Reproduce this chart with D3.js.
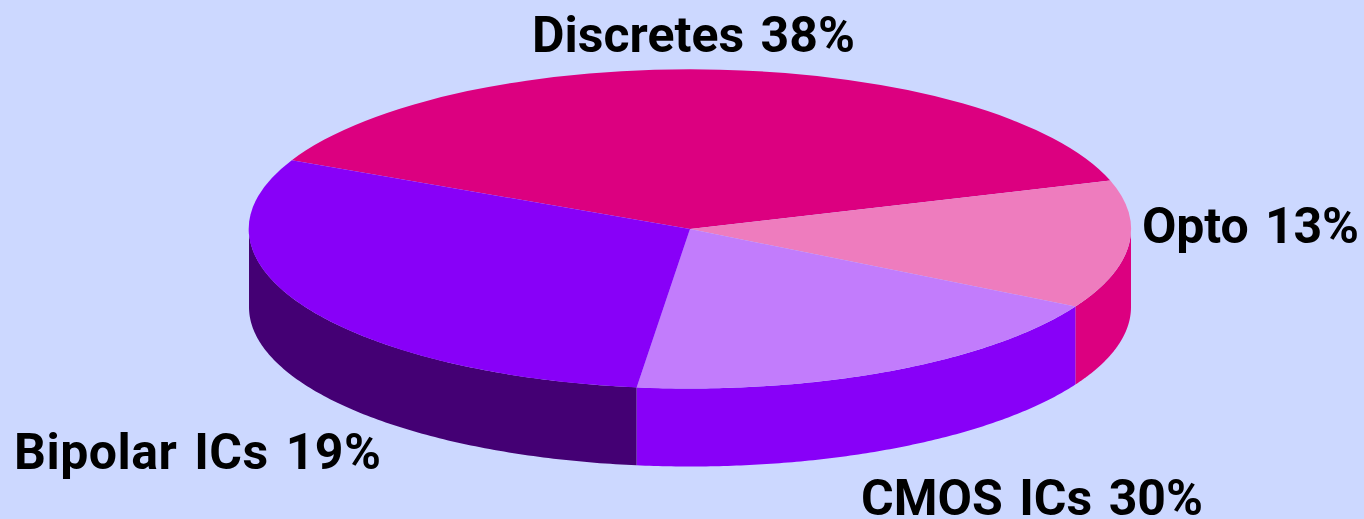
<!DOCTYPE html>
<html lang="en">
<head>
  <meta charset="UTF-8">
  <title>Semiconductor pie</title>
  <script src="https://d3js.org/d3.v7.min.js"></script>
  <style>
    html, body { margin: 0; padding: 0; background: #ccd8ff; overflow: hidden; }
    svg { display: block; }
    .label { font-family: Roboto, sans-serif; font-weight: 700; font-size: 50px; word-spacing: 4px; fill: #000; }
  </style>
</head>
<body>
  <div id="chart"></div>
  <script>
    // slice sizes are what the picture shows, label text is as printed on it
    const categories = ["Discretes", "Opto", "CMOS ICs", "Bipolar ICs"];
    const sliceValues = [38, 13, 18.85, 30.15];
    const printedPercents = [38, 13, 30, 19];
    const topColors = ["#dc0080", "#ee7cbe", "#c27cfc", "#8800f8"];
    const sideColors = ["#dc0080", "#dc0080", "#8800f8", "#440074"];

    const width = 1364, height = 519;
    const cx = 690, cy = 229, rx = 441, ry = 159.5, depth = 78;
    const startDeg = 295.5;

    const svg = d3.select("#chart").append("svg")
      .attr("width", width)
      .attr("height", height);

    const x = d3.scaleLinear().domain([-1, 1]).range([cx - rx, cx + rx]);
    const y = d3.scaleLinear().domain([-1, 1]).range([cy - ry, cy + ry]);

    const start = startDeg * Math.PI / 180;
    const slices = d3.pie().sort(null).startAngle(start).endAngle(start + 2 * Math.PI)(sliceValues);

    // side walls, only the part of each slice facing the viewer (pie angles 90 to 270 deg)
    const side = d3.area()
      .x(a => x(Math.sin(a)))
      .y0(a => y(-Math.cos(a)))
      .y1(a => y(-Math.cos(a)) + depth);

    const walls = svg.append("g");
    slices.forEach((d, i) => {
      [0, 2 * Math.PI].forEach(turn => {
        const a0 = Math.max(d.startAngle - turn, Math.PI / 2);
        const a1 = Math.min(d.endAngle - turn, 3 * Math.PI / 2);
        if (a1 <= a0) return;
        const pts = d3.range(0, 121).map(k => a0 + (a1 - a0) * k / 120);
        walls.append("path")
          .attr("d", side(pts))
          .attr("fill", sideColors[i]);
      });
    });

    // top face, unit circle squashed to the ellipse
    const arc = d3.arc().innerRadius(0).outerRadius(1);
    svg.append("g")
      .attr("transform", `translate(${cx},${cy}) scale(${rx},${ry})`)
      .selectAll("path")
      .data(slices)
      .enter().append("path")
      .attr("d", arc)
      .attr("fill", (d, i) => topColors[i]);

    const labelPos = [[532, 52, 323], [1142, 243, 217], [861, 515, 342], [14, 469, 367]];
    svg.selectAll("text.label")
      .data(categories)
      .enter().append("text")
      .attr("class", "label")
      .attr("x", (d, i) => labelPos[i][0])
      .attr("y", (d, i) => labelPos[i][1])
      .attr("textLength", (d, i) => labelPos[i][2])
      .attr("lengthAdjust", "spacing")
      .text((d, i) => `${d} ${printedPercents[i]}%`);
  </script>
</body>
</html>
